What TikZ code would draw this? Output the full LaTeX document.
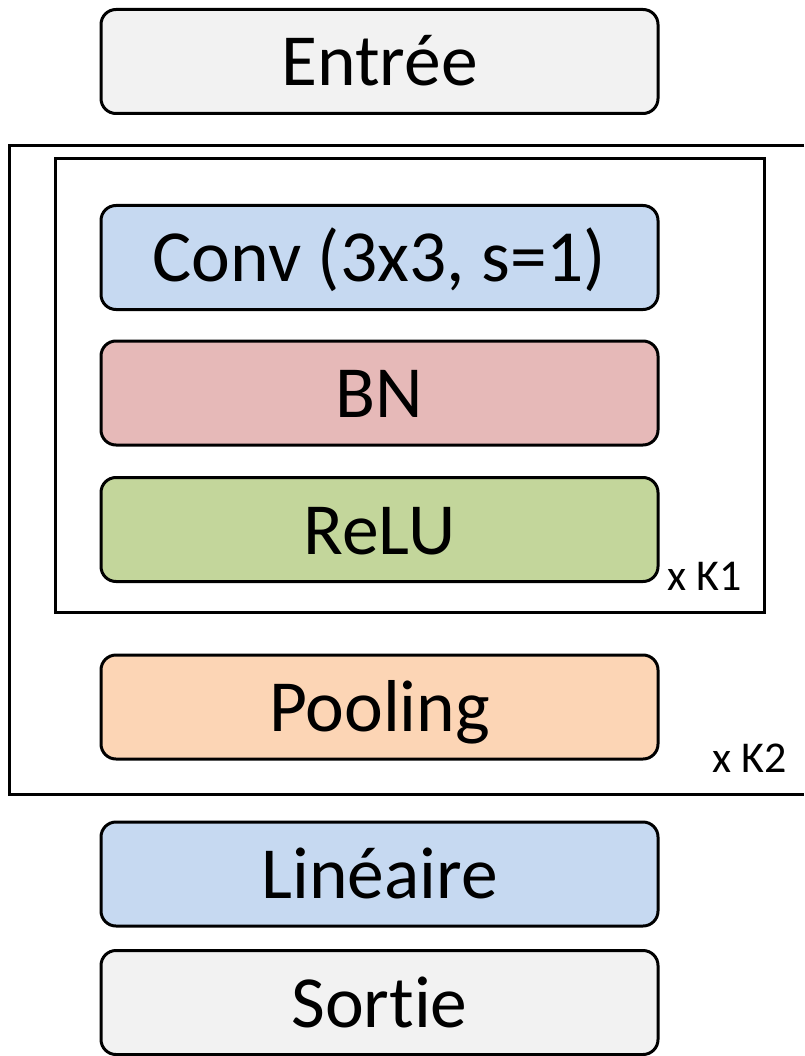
\documentclass[tikz,border=0pt]{standalone}
\usepackage{fontspec}
\setmainfont[Ligatures=NoCommon]{Carlito}
\definecolor{grayfill}{HTML}{F2F2F2}
\definecolor{bluefill}{HTML}{C6D9F1}
\definecolor{redfill}{HTML}{E6B9B8}
\definecolor{greenfill}{HTML}{C3D69B}
\definecolor{orangefill}{HTML}{FCD5B5}
\tikzset{
  layer/.style={draw=black, line width=3pt, rounded corners=15pt,
    minimum width=557pt, minimum height=104pt, inner sep=0pt,
    font=\fontsize{73.5}{80}\selectfont, text height=53pt, text depth=4pt},
  frame/.style={draw=black, line width=3pt},
  repeat/.style={anchor=base west, inner sep=0pt, font=\fontsize{44}{50}\selectfont}
}
\begin{document}
\begin{tikzpicture}[x=1pt, y=-1pt]
  \useasboundingbox (0,0) rectangle (804,1056);
  % outer repetition frame (open on the right)
  \coordinate (otr) at (804,146);
  \coordinate (otl) at (9.5,146);
  \coordinate (obl) at (9.5,794.5);
  \coordinate (obr) at (804,794.5);
  \draw[frame] (otr) -- (otl) -- (obl) -- (obr);
  % inner repetition frame
  \coordinate (itl) at (55,159);
  \coordinate (ibr) at (764.5,612);
  \draw[frame] (itl) rectangle (ibr);
  % layers
  \node[layer, fill=grayfill]   (in)   at (379.5,61.5)  {Entrée};
  \node[layer, fill=bluefill]   (conv) at (379.5,257.5) {Conv (3x3, s=1)};
  \node[layer, fill=redfill]    (bn)   at (379.5,393)   {BN};
  \node[layer, fill=greenfill]  (relu) at (379.5,529.5) {ReLU};
  \node[layer, fill=orangefill] (pool) at (379.5,707)   {Pooling};
  \node[layer, fill=bluefill]   (lin)  at (379.5,874)   {Linéaire};
  \node[layer, fill=grayfill]   (out)  at (379.5,1002.5){Sortie};
  % repetition counts
  \node[repeat] (k1) at (667,590) {x K1};
  \node[repeat] (k2) at (712,772) {x K2};
\end{tikzpicture}
\end{document}
